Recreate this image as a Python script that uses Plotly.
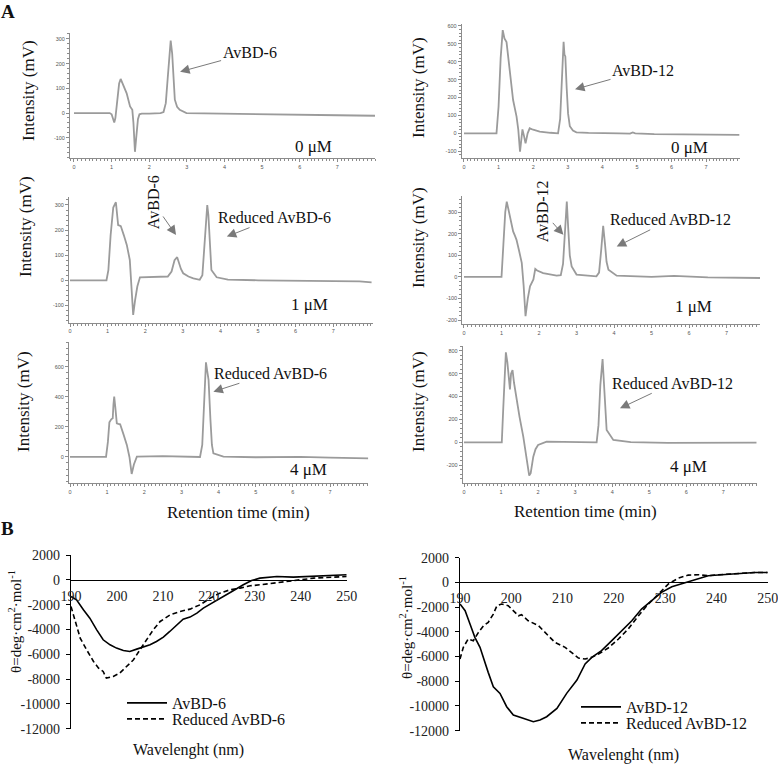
import plotly.graph_objects as go

W, H = 778, 764

# ---------------- Panel A : HPLC chromatograms ----------------
# Retention time (min) and intensity (mV)
rt_a6_0 = [0, 0.5, 0.95, 1.0, 1.04, 1.07, 1.1, 1.15, 1.2, 1.24, 1.3, 1.4, 1.49, 1.55, 1.58, 1.62, 1.66, 1.7, 1.74, 1.8, 2.0, 2.3, 2.38, 2.44, 2.49, 2.53, 2.57, 2.61, 2.65, 2.68, 2.74, 2.81, 2.99, 4, 5, 6, 7, 8.0]
mv_a6_0 = [0, 0, 0, -5, -25, -38, -20, 60, 120, 138, 118, 80, 27, 13, -40, -157, -90, -25, -5, -2, -2, 0, 4, 40, 140, 240, 293, 240, 120, 54, 25, 13, 0, -3, -5, -7, -9, -11]

rt_a12_0 = [0, 0.5, 0.94, 1.0, 1.06, 1.12, 1.17, 1.23, 1.3, 1.36, 1.42, 1.52, 1.57, 1.62, 1.66, 1.69, 1.73, 1.78, 1.84, 1.9, 2.0, 2.19, 2.5, 2.72, 2.78, 2.83, 2.86, 2.88, 2.905, 2.93, 2.97, 3.01, 3.06, 3.15, 3.25, 3.6, 4.5, 4.8, 4.88, 4.95, 5.5, 6.5, 7.96]
mv_a12_0 = [0, 0, 0, 150, 420, 577, 530, 510, 380, 270, 186, 93, 20, -103, -20, 22, -10, -56, 0, 28, 20, 10, 3, 0, 80, 300, 480, 512, 440, 430, 250, 110, 40, 15, 5, 2, 0, -2, 5, 0, -5, -8, -9]

rt_a6_1 = [0, 0.5, 0.97, 1.02, 1.08, 1.15, 1.22, 1.26, 1.28, 1.32, 1.35, 1.43, 1.51, 1.59, 1.63, 1.68, 1.73, 1.79, 1.86, 2.2, 2.6, 2.7, 2.78, 2.85, 2.9, 2.95, 3.01, 3.15, 3.28, 3.45, 3.52, 3.58, 3.62, 3.65, 3.68, 3.72, 3.76, 3.9, 4.2, 5, 6, 7, 7.7, 8.02]
mv_a6_1 = [0, 0, 0, 40, 180, 290, 311, 250, 220, 218, 216, 180, 141, 81, 0, -138, -80, -25, 12, 14, 15, 35, 80, 92, 70, 45, 28, 15, 8, 2, 20, 150, 270, 300, 260, 130, 41, 12, 3, 0, -2, -4, -4, -8]

rt_a12_1 = [0, 0.5, 1.0, 1.05, 1.1, 1.14, 1.2, 1.26, 1.31, 1.36, 1.40, 1.47, 1.54, 1.59, 1.64, 1.7, 1.76, 1.85, 1.9, 1.95, 2.11, 2.47, 2.58, 2.64, 2.69, 2.74, 2.78, 2.82, 2.87, 3.0, 3.53, 3.6, 3.66, 3.71, 3.76, 3.8, 3.85, 4.07, 5, 5.6, 6.5, 7.89]
mv_a12_1 = [0, 0, 0, 150, 300, 349, 300, 240, 211, 190, 172, 120, 65, -40, -182, -100, -43, -12, 37, 30, 18, 6, 8, 60, 220, 349, 220, 100, 49, 11, 3, 20, 130, 237, 150, 70, 34, 6, 0, 5, -2, -5]

rt_a6_4 = [0, 0.5, 0.97, 1.02, 1.06, 1.11, 1.15, 1.17, 1.19, 1.22, 1.26, 1.3, 1.35, 1.44, 1.53, 1.6, 1.66, 1.72, 1.8, 2.5, 3.5, 3.56, 3.61, 3.64, 3.66, 3.7, 3.73, 3.78, 3.82, 3.86, 4.13, 5, 6.2, 7, 8.03]
mv_a6_4 = [0, 0, 0, 100, 230, 250, 257, 350, 401, 330, 224, 220, 217, 150, 80, 0, -113, -50, 2, 5, 0, 80, 400, 600, 629, 560, 512, 250, 80, 24, 2, -2, 0, -5, -9]

rt_a12_4 = [0, 0.5, 1.02, 1.06, 1.1, 1.13, 1.17, 1.2, 1.24, 1.27, 1.31, 1.35, 1.42, 1.5, 1.6, 1.69, 1.76, 1.8, 1.87, 1.93, 2.0, 2.23, 2.6, 3.58, 3.63, 3.68, 3.74, 3.78, 3.82, 3.85, 4.03, 4.5, 5.5, 6.5, 7.9]
mv_a12_4 = [0, 0, 0, 300, 650, 785, 700, 602, 462, 600, 631, 520, 369, 220, 49, -154, -291, -270, -125, -60, -23, 6, 5, 0, 150, 500, 727, 500, 200, 108, 20, 2, -5, -2, -3]

rt_ticks = [0, 1, 2, 3, 4, 5, 6, 7]

# y tick values / labels for each chromatogram
yv1 = [-100, 0, 100, 200, 300]
yv2 = [-100, 0, 100, 200, 300, 400, 500, 600]
yv3 = [-100, 0, 100, 200, 300]
yv4 = [-200, -100, 0, 100, 200, 300]
yv5 = [0, 200, 400, 600]
yv6 = [-200, 0, 200, 400, 600, 800]

# ---------------- Panel B : CD spectra ----------------
wl_a6 = [190, 191.2, 192.7, 194.1, 195.6, 197.0, 198.5, 199.9, 201.4, 202.8, 204.3, 205.7, 207.2, 208.6, 210.1, 211.5, 213.0, 214.4, 215.9, 217.4, 218.8, 221.0, 223.2, 225.3, 227.5, 229.3, 231.1, 234.8, 238.4, 242.0, 245.7, 250]
cd_a6 = [-1343, -1612, -2417, -3090, -4030, -4835, -5238, -5506, -5694, -5775, -5587, -5426, -5238, -4969, -4620, -4163, -3626, -3170, -3008, -2686, -2283, -1826, -1343, -886, -403, -54, 134, 269, 215, 269, 349, 403]

wl_ra6 = [190, 190.9, 192.0, 193.4, 194.9, 196.0, 197.0, 197.7, 199.2, 200.6, 202.1, 203.6, 205.0, 206.5, 207.9, 209.4, 211.6, 213.7, 215.9, 218.1, 220.3, 222.4, 224.6, 226.8, 229.0, 231.1, 234.8, 238.4, 239.9, 242.8, 250]
cd_ra6 = [-2149, -3223, -4700, -5640, -6580, -7118, -7386, -7923, -7789, -7520, -6984, -6446, -5640, -4835, -4030, -3357, -2820, -2552, -2364, -2015, -1477, -1074, -806, -672, -483, -403, -215, -81, 0, 134, 269]

wl_a12 = [190, 191.0, 191.95, 192.9, 193.9, 194.9, 195.5, 196.5, 197.8, 199.1, 200.4, 202.3, 204.3, 205.6, 206.9, 208.9, 210.8, 212.8, 214.4, 215.7, 217.6, 219.6, 221.5, 223.5, 225.4, 227.4, 229.3, 231.3, 232.6, 234.5, 236.5, 238.4, 241.0, 244.3, 247.5, 250]
cd_a12 = [-1752, -2290, -3370, -4447, -5255, -6600, -7280, -8440, -8980, -10060, -10730, -11000, -11270, -11140, -10870, -10200, -8980, -7900, -6600, -6064, -5525, -4716, -3908, -3100, -2156, -1482, -808, -350, -189, 80, 270, 539, 620, 728, 808, 808]

wl_ra12 = [190, 190.65, 191.6, 192.6, 193.6, 194.6, 195.5, 196.5, 197.2, 198.1, 199.4, 200.4, 201.4, 202.0, 203.3, 205.3, 206.6, 208.5, 210.5, 211.8, 213.1, 214.4, 215.7, 217.0, 218.9, 220.9, 222.8, 224.8, 226.7, 228.7, 230.6, 232.6, 234.5, 236.5, 238.4, 240.4, 244.3, 247.5, 250]
cd_ra12 = [-6200, -5255, -4580, -4716, -4042, -3500, -3234, -2560, -1886, -1752, -1886, -2290, -2695, -2614, -3100, -3500, -4042, -4851, -5255, -5660, -6118, -6200, -6064, -5794, -5310, -4580, -3773, -2695, -1752, -943, -135, 350, 593, 620, 539, 620, 728, 808, 808]

wl_ticks = [190, 200, 210, 220, 230, 240, 250]
cd_ticks = [2000, 0, -2000, -4000, -6000, -8000, -10000, -12000]

SERIF = "Liberation Serif, Times New Roman, serif"
SANS = "Liberation Sans, Arial, sans-serif"
GREY_LINE = "rgb(155,155,155)"
AXIS_GREY = "#8c8c8c"


def px_x(p):
    return p / W


def px_y(p):
    return 1 - p / H


fig = go.Figure()

chrom = [
    # (rt, mv, xpx(l,r), ypx(top,bottom), xrange, yrange, yvals, ydtick_minor)
    (rt_a6_0, mv_a6_0, (70, 375), (33, 158), [-0.106, 8.0], [-182, 324], yv1, 20),
    (rt_a12_0, mv_a12_0, (461.7, 740), (24, 158), [-0.066, 7.98], [-138, 611], yv2, 20),
    (rt_a6_1, mv_a6_1, (69, 372.7), (196.7, 322.7), [-0.027, 8.05], [-169, 333], yv3, 20),
    (rt_a12_1, mv_a12_1, (462.3, 760), (196, 324), [-0.045, 7.89], [-218, 375], yv4, 20),
    (rt_a6_4, mv_a6_4, (69, 368.3), (341.7, 483.3), [-0.027, 8.03], [-175, 766], yv5, 40),
    (rt_a12_4, mv_a12_4, (462.7, 756.7), (346, 483.3), [-0.035, 7.9], [-358, 841], yv6, 40),
]

layout_axes = {}
for i, (xs, ys, xp, yp, xr, yr, yv, ymin) in enumerate(chrom, start=1):
    s = "" if i == 1 else str(i)
    fig.add_trace(go.Scatter(x=xs, y=ys, mode="lines", xaxis="x" + s, yaxis="y" + s,
                             line=dict(color=GREY_LINE, width=1.8), showlegend=False,
                             hoverinfo="skip"))
    layout_axes["xaxis" + s] = dict(
        domain=[px_x(xp[0]), px_x(xp[1])], range=xr, anchor="y" + s, automargin=False,
        showline=True, linecolor=AXIS_GREY, linewidth=1, showgrid=False, zeroline=False,
        ticks="outside", ticklen=3, tickcolor=AXIS_GREY, tickmode="array",
        tickvals=rt_ticks, ticktext=[str(v) for v in rt_ticks],
        tickfont=dict(family=SANS, size=5.5, color="#555"),
        minor=dict(ticks="outside", ticklen=2, dtick=0.1, tick0=0, tickcolor=AXIS_GREY),
    )
    layout_axes["yaxis" + s] = dict(
        domain=[px_y(yp[1]), px_y(yp[0])], range=yr, anchor="x" + s, automargin=False,
        showline=True, linecolor=AXIS_GREY, linewidth=1, showgrid=False, zeroline=False,
        ticks="outside", ticklen=3, tickcolor=AXIS_GREY, tickmode="array",
        tickvals=yv, ticktext=[str(v) for v in yv],
        tickfont=dict(family=SANS, size=5.5, color="#555"),
        minor=dict(ticks="outside", ticklen=2, dtick=ymin, tick0=0, tickcolor=AXIS_GREY),
    )

# CD panels
cd_panels = [
    # (xpx, ypx, traces)
    ((71, 346.7), (555, 728.7),
     [(wl_a6, cd_a6, "AvBD-6", "solid", "legend"),
      (wl_ra6, cd_ra6, "Reduced AvBD-6", "5px,3px", "legend2")]),
    ((460, 767.7), (557.7, 730.7),
     [(wl_a12, cd_a12, "AvBD-12", "solid", "legend3"),
      (wl_ra12, cd_ra12, "Reduced AvBD-12", "5px,3px", "legend4")]),
]
for j, (xp, yp, trs) in enumerate(cd_panels, start=7):
    s = str(j)
    for xs, ys, name, dash, leg in trs:
        fig.add_trace(go.Scatter(x=xs, y=ys, mode="lines", name=name, xaxis="x" + s, yaxis="y" + s,
                                 line=dict(color="black", width=1.6, dash=dash), legend=leg,
                                 hoverinfo="skip"))
    yb, yt = px_y(yp[1]), px_y(yp[0])
    yr = [-12000, 2000]
    zero_pos = yb + (0 - yr[0]) / (yr[1] - yr[0]) * (yt - yb)
    layout_axes["xaxis" + s] = dict(
        domain=[px_x(xp[0]), px_x(xp[1])], range=[190, 250], anchor="free", position=zero_pos,
        automargin=False, ticklabeloverflow="allow",
        showline=True, linecolor="black", linewidth=1.2, showgrid=False, zeroline=False,
        ticks="", tickmode="array", tickvals=wl_ticks, ticktext=[str(v) for v in wl_ticks],
        tickfont=dict(family=SERIF, size=14, color="#222"), ticklabelstandoff=3,
    )
    layout_axes["yaxis" + s] = dict(
        domain=[yb, yt], range=yr, anchor="x" + s, automargin=False,
        showline=True, linecolor="black", linewidth=1.2, showgrid=False, zeroline=False,
        ticks="outside", ticklen=4, tickcolor="black", tickmode="array",
        tickvals=cd_ticks, ticktext=[str(v) for v in cd_ticks],
        tickfont=dict(family=SERIF, size=14, color="#222"), ticklabelstandoff=3,
    )

annotations = []


def txt(text, x, y, xref="paper", yref="paper", size=16, angle=0, xanchor="center",
        yanchor="middle", bold=False, color="#111"):
    if xref == "paper":
        x = px_x(x)
    if yref == "paper":
        y = px_y(y)
    annotations.append(dict(text=("<b>%s</b>" % text) if bold else text, x=x, y=y, xref=xref,
                            yref=yref, showarrow=False, textangle=angle, xanchor=xanchor,
                            yanchor=yanchor, font=dict(family=SERIF, size=size, color=color)))


def label_arrow(text, x, y, ax, ay, s, angle=0):
    # arrow head at data point (x, y); label centred at pixel offset (ax, ay)
    annotations.append(dict(text=text, x=x, y=y, xref="x" + s, yref="y" + s, ax=ax, ay=ay,
                            showarrow=True, arrowhead=2, arrowsize=1.9, arrowwidth=1,
                            arrowcolor="#7a7a7a", textangle=angle, standoff=0,
                            font=dict(family=SERIF, size=16, color="#111")))


# panel labels
txt("A", 8, 11, size=19, bold=True)
txt("B", 8, 528, size=19, bold=True)

# y titles of chromatograms
for xc, yc in [(28, 91), (25, 227), (23, 402), (418, 88), (418, 238), (418, 402)]:
    txt("Intensity (mV)", xc, yc, size=17, angle=-90)

txt("Retention time (min)", 238, 512, size=17)
txt("Retention time (min)", 585, 511, size=17)

# peak labels with arrows (head in data coordinates)
label_arrow("AvBD-6", 2.82, 167, 69.5, -19, "")
txt("0 μM", 5.82, -136, xref="x", yref="y", xanchor="left", size=17)

label_arrow("AvBD-12", 3.21, 246, 68, -19, "2")
txt("0 μM", 5.92, -77, xref="x2", yref="y2", xanchor="left", size=17)

label_arrow("AvBD-6", 2.82, 180, -23, -33, "3", angle=-90)
label_arrow("Reduced AvBD-6", 4.17, 174, 48, -19, "3")
txt("1 μM", 5.82, -98, xref="x3", yref="y3", xanchor="left", size=17)

label_arrow("AvBD-12", 2.65, 195, -20.6, -23.3, "4", angle=-90)
label_arrow("Reduced AvBD-12", 4.07, 141, 53.6, -26.7, "4")
txt("1 μM", 5.57, -136, xref="x4", yref="y4", xanchor="left", size=17)

label_arrow("Reduced AvBD-6", 3.86, 434, 57, -18.4, "5")
txt("4 μM", 5.87, -86, xref="x5", yref="y5", xanchor="left", size=17)

label_arrow("Reduced AvBD-12", 4.21, 297, 53, -25, "6")
txt("4 μM", 5.51, -213, xref="x6", yref="y6", xanchor="left", size=17)

# CD titles
txt("θ=deg·cm<sup>2</sup>·mol<sup>-1</sup>", 15, 622, size=15, angle=-90)
txt("θ=deg·cm<sup>2</sup>·mol<sup>-1</sup>", 406, 628, size=15, angle=-90)
txt("Wavelenght (nm)", 188, 750, size=16)
txt("Wavelenght (nm)", 623, 755, size=16)


def leg(xp, yp):
    return dict(x=px_x(xp), y=px_y(yp), xanchor="left", yanchor="middle", bgcolor="rgba(0,0,0,0)",
                borderwidth=0, font=dict(family=SERIF, size=16, color="#111"), itemwidth=40,
                tracegroupgap=0)


fig.update_layout(
    width=W, height=H, margin=dict(l=0, r=0, t=0, b=0, autoexpand=False),
    paper_bgcolor="white", plot_bgcolor="white", showlegend=True,
    legend=leg(122, 703), legend2=leg(122, 719),
    legend3=leg(576, 707), legend4=leg(576, 723),
    annotations=annotations,
    **layout_axes,
)

fig.write_html("out.html", config={"displayModeBar": False},
               post_script="document.body.style.margin='0';document.body.style.overflow='hidden';")
